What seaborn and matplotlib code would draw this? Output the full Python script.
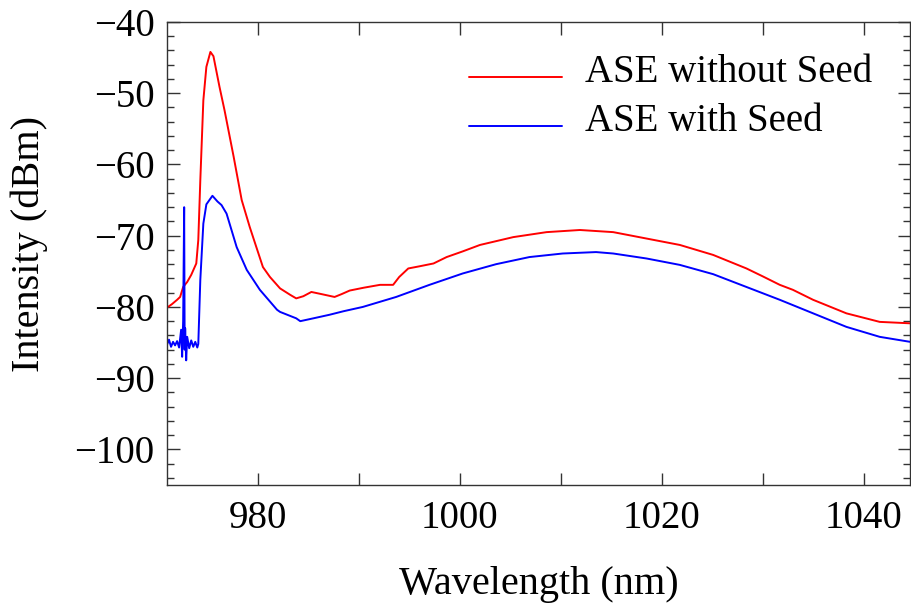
import numpy as np
import pandas as pd
import matplotlib
matplotlib.use("Agg")
import matplotlib.pyplot as plt
import matplotlib.transforms as mtransforms
import seaborn as sns
from matplotlib.ticker import MultipleLocator, FixedLocator

# ---- data ----
red_wl = [971.0, 971.5, 972.0, 972.3, 972.6, 973.0, 973.4, 973.9, 974.1, 974.3,
          974.6, 974.9, 975.3, 975.6, 976.2, 976.7, 977.6, 978.4, 979.2, 980.5,
          981.2, 982.2, 983.2, 983.8, 984.5, 985.3, 986.3, 987.6, 988.3, 989.1,
          990.5, 992.1, 993.4, 994.0, 994.9, 996.0, 997.4, 998.7, 1000.3, 1002.0,
          1005.3, 1008.6, 1011.9, 1015.2, 1018.5, 1021.8, 1025.1, 1028.4, 1030.0,
          1031.7, 1033.0, 1035.0, 1038.3, 1041.6, 1044.6]
red_db = [-80.1, -79.6, -79.0, -78.6, -77.2, -76.5, -75.5, -73.9, -70.6, -62.2,
          -51.0, -46.3, -44.2, -44.8, -49.1, -52.4, -58.9, -65.0, -68.8, -74.4,
          -75.8, -77.4, -78.3, -78.8, -78.5, -77.9, -78.2, -78.6, -78.2, -77.7,
          -77.3, -76.9, -76.9, -75.8, -74.6, -74.3, -73.9, -73.0, -72.2, -71.3,
          -70.2, -69.5, -69.2, -69.5, -70.4, -71.3, -72.7, -74.6, -75.7,
          -76.9, -77.6, -79.0, -80.9, -82.1, -82.3]

blue_wl = [971.0, 971.2, 971.4, 971.6, 971.8, 972.0, 972.2, 972.4, 972.5, 972.6,
           972.7, 972.75, 972.8, 972.9, 973.0, 973.2, 973.4, 973.6, 973.8, 974.0,
           974.1, 974.3, 974.6, 974.9, 975.5, 976.0, 976.4, 976.9, 977.9, 978.9,
           980.2, 981.9, 982.2, 983.8, 984.2, 985.5, 987.1, 988.5, 990.4, 993.7,
           997.0, 1000.3, 1003.6, 1006.9, 1010.2, 1013.5, 1015.2, 1018.5, 1021.8,
           1025.1, 1028.4, 1031.7, 1035.0, 1038.3, 1041.6, 1044.6]
blue_db = [-85.3, -84.6, -85.6, -84.9, -85.4, -84.8, -85.7, -83.2, -87.0, -82.0,
           -66.0, -86.0, -83.0, -87.5, -84.2, -85.8, -84.7, -85.6, -84.9, -85.7,
           -85.2, -76.2, -68.3, -65.6, -64.4, -65.2, -65.7, -66.9, -71.6, -74.8,
           -77.6, -80.4, -80.7, -81.6, -82.0, -81.6, -81.1, -80.6, -80.0, -78.6,
           -76.9, -75.3, -74.0, -73.0, -72.5, -72.3, -72.5, -73.2, -74.1,
           -75.4, -77.2, -79.0, -80.9, -82.8, -84.2, -84.9]

series_names = ["ASE without Seed", "ASE with Seed"]
series_colors = ["#ff0000", "#0000ff"]
x_ticks = [980, 1000, 1020, 1040]
y_ticks = [-100, -90, -80, -70, -60, -50, -40]

df = pd.concat([
    pd.DataFrame({"wl": red_wl, "db": red_db, "series": series_names[0]}),
    pd.DataFrame({"wl": blue_wl, "db": blue_db, "series": series_names[1]}),
], ignore_index=True)

sns.set_style("ticks")
plt.rcParams["font.family"] = ["Liberation Serif", "DejaVu Serif"]
plt.rcParams["axes.unicode_minus"] = True
plt.rcParams["text.color"] = "black"
plt.rcParams["axes.labelcolor"] = "black"

fig = plt.figure(figsize=(9.11, 6.03), dpi=100)
ax = fig.add_axes([167 / 911, 1 - 485 / 603, (910 - 167) / 911, (485 - 22) / 603])

sns.lineplot(data=df, x="wl", y="db", hue="series", palette=series_colors,
             hue_order=series_names, sort=False, estimator=None,
             linewidth=1.4, ax=ax)

ax.set_xlim(971, 1044.6)
ax.set_ylim(-105, -40)

xt_all = list(range(980, 1050, 10))
ax.xaxis.set_major_locator(FixedLocator(xt_all))
ax.set_xticklabels([str(v) if v in x_ticks else "" for v in xt_all])
ax.yaxis.set_major_locator(FixedLocator(y_ticks))
ax.yaxis.set_minor_locator(MultipleLocator(2))

edge = "#333333"
for s in ax.spines.values():
    s.set_visible(True)
    s.set_color(edge)
    s.set_linewidth(1.0)

ax.tick_params(axis="both", which="both", direction="in", top=True, right=True,
               color=edge, width=1.0, labelsize=28, labelcolor="black")
ax.tick_params(axis="both", which="major", length=9, pad=9)
ax.tick_params(axis="x", which="major", pad=11)
ax.tick_params(axis="both", which="minor", length=5)

ax.set_xlabel("Wavelength (nm)", fontsize=29, color="black")
ax.set_ylabel("Intensity (dBm)", fontsize=29, color="black")
ax.xaxis.set_label_coords(0.50, -0.176)
ax.yaxis.set_label_coords(-0.16, 0.52)

leg = ax.legend(loc="upper left", bbox_to_anchor=(0.406, 0.93), frameon=False,
                fontsize=28, handlelength=2.4, handletextpad=0.6,
                labelspacing=0.3, borderpad=0, borderaxespad=0)
shift = mtransforms.ScaledTranslation(0, -6 / 72, fig.dpi_scale_trans)
for line in leg.get_lines():
    line.set_linewidth(1.4)
    line.set_transform(line.get_transform() + shift)
for t in leg.get_texts():
    t.set_color("black")

fig.savefig("out.png", dpi=100)
